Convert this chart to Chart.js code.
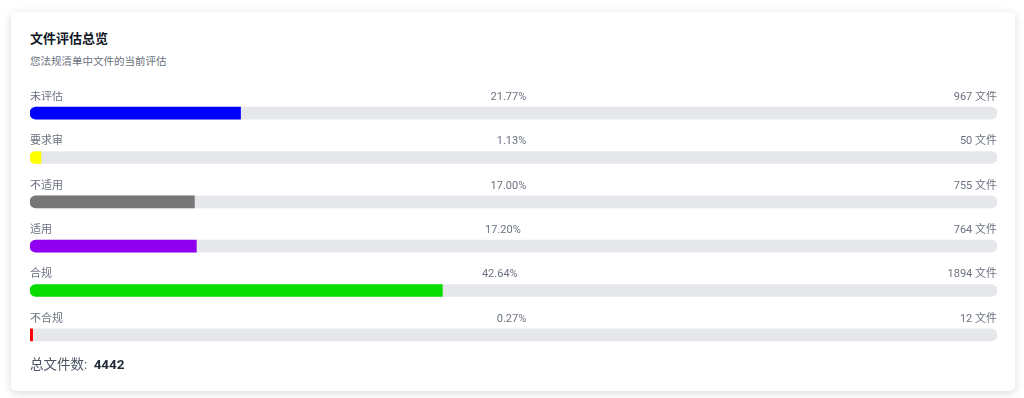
<!DOCTYPE html>
<html lang="zh-CN">
<head>
  <meta charset="UTF-8">
  <title>文件评估总览</title>
  <script src="https://cdn.jsdelivr.net/npm/chart.js"></script>
  <style>
    * { box-sizing: border-box; }
    body {
      margin: 0;
      background: #ffffff;
      font-family: Roboto, "Noto Sans CJK SC", sans-serif;
      width: 1024px;
      height: 398px;
      overflow: hidden;
    }
    .card {
      position: absolute;
      left: 11px;
      top: 12px;
      width: 1004px;
      height: 379px;
      background: #fff;
      border-radius: 5px;
      box-shadow: 0 2px 10px rgba(0,0,0,0.15);
    }
    .title {
      position: absolute;
      left: 19px;
      top: 16px;
      margin: 0;
      font-size: 13px;
      font-weight: bold;
      color: #111827;
    }
    .sub {
      position: absolute;
      left: 19px;
      top: 41px;
      margin: 0;
      font-size: 10.5px;
      color: #6b7280;
    }
    .chart-box {
      position: absolute;
      left: 19px;
      top: 79px;
      width: 967px;
      height: 266px;
    }
    .total {
      position: absolute;
      left: 19px;
      top: 341px;
      font-size: 13.5px;
      color: #4b5563;
    }
    .total b { color: #1f2937; margin-left: 3px; }
  </style>
</head>
<body>
  <div class="card">
    <h3 class="title">文件评估总览</h3>
    <p class="sub">您法规清单中文件的当前评估</p>
    <div class="chart-box"><canvas id="grafico"></canvas></div>
    <div class="total">总文件数: <b id="total"></b></div>
  </div>

  <script>
    const categorias = ['未评估', '要求审', '不适用', '适用', '合规', '不合规'];
    const percentuais = [21.77, 1.13, 17.00, 17.20, 42.64, 0.27];
    const contagens = [967, 50, 755, 764, 1894, 12];
    const cores = ['#0000ff', '#ffff00', '#777777', '#8f00f0', '#08dd00', '#ff0000'];
    const totalArquivos = 4442;

    document.getElementById('total').textContent = totalArquivos;

    // labels above each bar: name left, percent in the middle, count right
    const rotulos = {
      id: 'rotulos',
      afterDatasetsDraw(chart) {
        const ctx = chart.ctx;
        const area = chart.chartArea;
        const y = chart.scales.y;
        const W = area.right - area.left;
        ctx.save();
        ctx.font = '11px Roboto, "Noto Sans CJK SC", sans-serif';
        ctx.fillStyle = '#6b7280';
        ctx.textBaseline = 'middle';
        categorias.forEach(function (c, i) {
          const cy = y.getPixelForValue(i) - 16;
          const pct = percentuais[i].toFixed(2) + '%';
          const cnt = contagens[i] + ' 文件';
          const wL = ctx.measureText(c).width;
          const wR = ctx.measureText(cnt).width;
          ctx.textAlign = 'left';
          ctx.fillText(c, area.left, cy);
          ctx.textAlign = 'right';
          ctx.fillText(cnt, area.right, cy);
          ctx.textAlign = 'center';
          ctx.fillText(pct, area.left + (W + wL - wR) / 2, cy);
        });
        ctx.restore();
      }
    };

    new Chart(document.getElementById('grafico'), {
      type: 'bar',
      data: {
        labels: categorias,
        datasets: [
          {
            data: percentuais,
            backgroundColor: cores,
            barThickness: 12,
            borderSkipped: false,
            borderRadius: { topLeft: 6, bottomLeft: 6, topRight: 0, bottomRight: 0 },
            order: 1
          },
          {
            data: categorias.map(() => 100),
            backgroundColor: '#e5e7eb',
            barThickness: 12,
            borderSkipped: false,
            borderRadius: 6,
            order: 2
          }
        ]
      },
      options: {
        indexAxis: 'y',
        responsive: true,
        maintainAspectRatio: false,
        animation: false,
        grouped: false,
        layout: { padding: 0 },
        scales: {
          x: { display: false, min: 0, max: 100 },
          y: { display: false }
        },
        plugins: {
          legend: { display: false },
          tooltip: { enabled: false }
        }
      },
      plugins: [rotulos]
    });
  </script>
</body>
</html>
